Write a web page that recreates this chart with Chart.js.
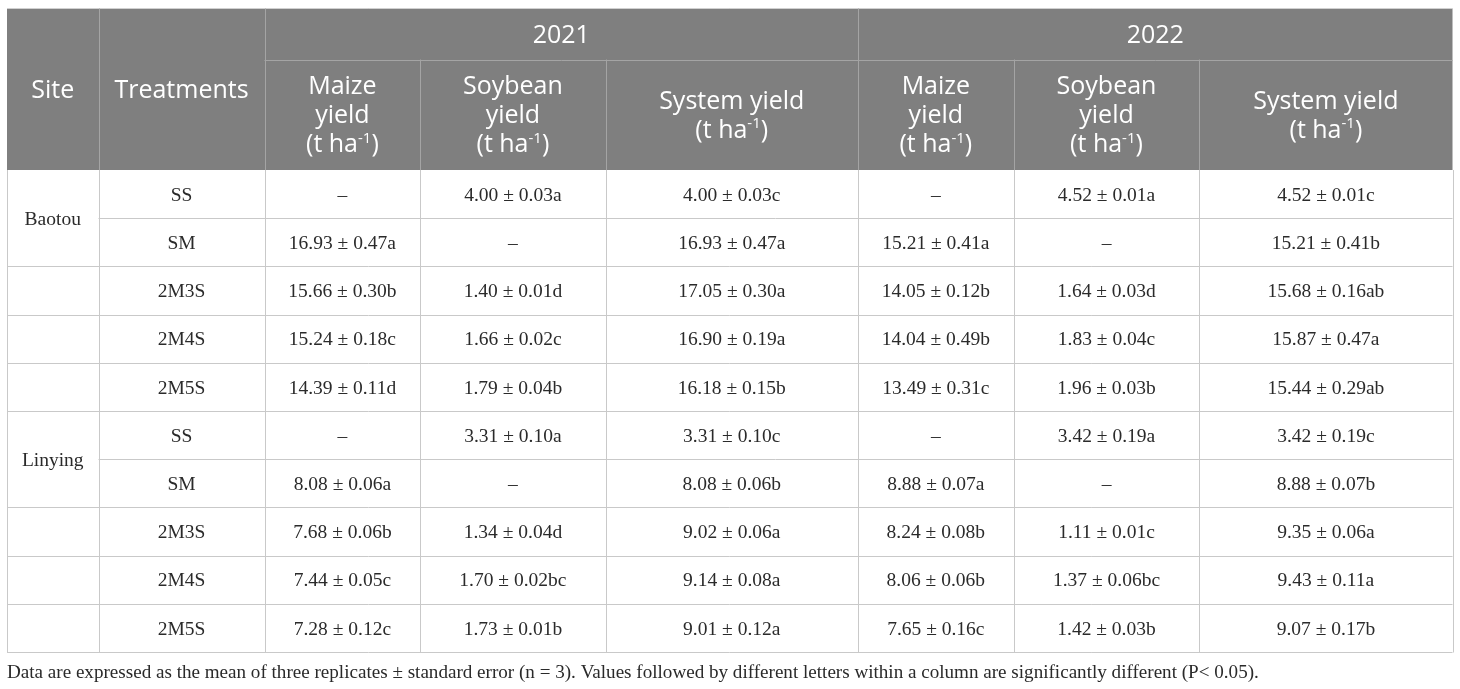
<!DOCTYPE html>
<html>
<head>
<meta charset="utf-8">
<script src="https://cdn.jsdelivr.net/npm/chart.js@4.4.0/dist/chart.umd.min.js"></script>
<style>
html, body { margin: 0; padding: 0; background: #fff; }
#wrap { width: 1460px; height: 689px; position: relative; }
</style>
</head>
<body>
<div id="wrap"><canvas id="tableChart"></canvas></div>
<script>
const sites = ['Baotou', 'Linying'];
const treatments = ['SS', 'SM', '2M3S', '2M4S', '2M5S'];
const years = ['2021', '2022'];
const measures = [['Maize', 'yield'], ['Soybean', 'yield'], ['System yield']];
const unitText = ['(t ha', '-1', ')'];

// rows: Baotou SS..2M5S then Linying SS..2M5S, null = crop not grown
const maize2021 = [null, 16.93, 15.66, 15.24, 14.39, null, 8.08, 7.68, 7.44, 7.28];
const maize2021Se = [null, 0.47, 0.30, 0.18, 0.11, null, 0.06, 0.06, 0.05, 0.12];
const maize2021Sig = ['', 'a', 'b', 'c', 'd', '', 'a', 'b', 'c', 'c'];
const soy2021 = [4.00, null, 1.40, 1.66, 1.79, 3.31, null, 1.34, 1.70, 1.73];
const soy2021Se = [0.03, null, 0.01, 0.02, 0.04, 0.10, null, 0.04, 0.02, 0.01];
const soy2021Sig = ['a', '', 'd', 'c', 'b', 'a', '', 'd', 'bc', 'b'];
const system2021 = [4.00, 16.93, 17.05, 16.90, 16.18, 3.31, 8.08, 9.02, 9.14, 9.01];
const system2021Se = [0.03, 0.47, 0.30, 0.19, 0.15, 0.10, 0.06, 0.06, 0.08, 0.12];
const system2021Sig = ['c', 'a', 'a', 'a', 'b', 'c', 'b', 'a', 'a', 'a'];
const maize2022 = [null, 15.21, 14.05, 14.04, 13.49, null, 8.88, 8.24, 8.06, 7.65];
const maize2022Se = [null, 0.41, 0.12, 0.49, 0.31, null, 0.07, 0.08, 0.06, 0.16];
const maize2022Sig = ['', 'a', 'b', 'b', 'c', '', 'a', 'b', 'b', 'c'];
const soy2022 = [4.52, null, 1.64, 1.83, 1.96, 3.42, null, 1.11, 1.37, 1.42];
const soy2022Se = [0.01, null, 0.03, 0.04, 0.03, 0.19, null, 0.01, 0.06, 0.03];
const soy2022Sig = ['a', '', 'd', 'c', 'b', 'a', '', 'c', 'bc', 'b'];
const system2022 = [4.52, 15.21, 15.68, 15.87, 15.44, 3.42, 8.88, 9.35, 9.43, 9.07];
const system2022Se = [0.01, 0.41, 0.16, 0.47, 0.29, 0.19, 0.07, 0.06, 0.11, 0.17];
const system2022Sig = ['c', 'b', 'ab', 'a', 'ab', 'c', 'b', 'a', 'a', 'b'];

const footnote = 'Data are expressed as the mean of three replicates ± standard error (n = 3). Values followed by different letters within a column are significantly different (P< 0.05).';

// layout (table units = px from left border)
const colEdges = [0, 91.5, 257.5, 413.3, 598.5, 851, 1006.7, 1192.3, 1445.5];
const HEAD_TOP = 8.5, HEAD_MID = 59.5;
const headFont = '25px "Open Sans"';
const supFont = '15px "Open Sans"';
const bodyFont = '19.5px "Liberation Serif"';
const noteFont = '19.1px "Liberation Serif"';
const headBg = '#7f7f7f', headLine = '#a4a4a4', bodyLine = '#c9c9c9', bodyText = '#2a2a2a';

const nRows = sites.length * treatments.length;
const colCenter = c => (colEdges[c] + colEdges[c + 1]) / 2;

function cellText(mean, se, sig) {
    return mean === null ? '–' : mean.toFixed(2) + ' ± ' + se.toFixed(2) + sig;
}

const valueCols = [
    [maize2021, maize2021Se, maize2021Sig],
    [soy2021, soy2021Se, soy2021Sig],
    [system2021, system2021Se, system2021Sig],
    [maize2022, maize2022Se, maize2022Sig],
    [soy2022, soy2022Se, soy2022Sig],
    [system2022, system2022Se, system2022Sig]
];

const datasets = [];
// site labels sit in the middle of a two-row merged cell
datasets.push({
    texts: sites,
    data: sites.map((s, i) => ({x: colCenter(0), y: i * treatments.length + 0.5}))
});
datasets.push({
    texts: sites.flatMap(() => treatments),
    data: sites.flatMap((s, i) => treatments.map((t, j) => ({x: colCenter(1), y: i * treatments.length + j})))
});
valueCols.forEach(([m, se, sig], c) => {
    datasets.push({
        texts: m.map((v, r) => cellText(v, se[r], sig[r])),
        data: m.map((v, r) => ({x: colCenter(c + 2), y: r}))
    });
});
datasets.forEach(d => { d.pointRadius = 0; d.pointHoverRadius = 0; });

function crisp(v) { return Math.round(v) + 0.5; }

function line(ctx, x1, y1, x2, y2, color) {
    ctx.strokeStyle = color;
    ctx.lineWidth = 1;
    ctx.beginPath();
    ctx.moveTo(x1, y1);
    ctx.lineTo(x2, y2);
    ctx.stroke();
}

function unitLine(ctx, cx, baseline) {
    ctx.font = headFont;
    const w0 = ctx.measureText(unitText[0]).width;
    const w2 = ctx.measureText(unitText[2]).width;
    ctx.font = supFont;
    const w1 = ctx.measureText(unitText[1]).width;
    let x0 = cx - (w0 + w1 + w2) / 2;
    ctx.textAlign = 'left';
    ctx.font = headFont;
    ctx.fillText(unitText[0], x0, baseline);
    ctx.font = supFont;
    ctx.fillText(unitText[1], x0 + w0, baseline - 9.5);
    ctx.font = headFont;
    ctx.fillText(unitText[2], x0 + w0 + w1, baseline);
    ctx.textAlign = 'center';
}

const tablePlugin = {
    id: 'tableDraw',
    afterDraw(chart) {
        const {ctx, chartArea} = chart;
        const x = chart.scales.x, y = chart.scales.y;
        const px = c => x.getPixelForValue(colEdges[c]);
        const left = px(0), right = px(colEdges.length - 1);
        const top = chartArea.top, bottom = y.getPixelForValue(nRows - 0.5);
        ctx.save();

        // header block
        ctx.fillStyle = headBg;
        ctx.fillRect(left, HEAD_TOP, right - left, top - HEAD_TOP);
        line(ctx, left, crisp(HEAD_TOP - 1), right, crisp(HEAD_TOP - 1), '#d0d0d0');
        line(ctx, px(2), crisp(HEAD_MID), right, crisp(HEAD_MID), headLine);
        [1, 2, 5].forEach(c => line(ctx, crisp(px(c)), HEAD_TOP, crisp(px(c)), top, headLine));
        [3, 4, 6, 7].forEach(c => line(ctx, crisp(px(c)), HEAD_MID, crisp(px(c)), top, headLine));

        ctx.fillStyle = '#ffffff';
        ctx.textAlign = 'center';
        ctx.textBaseline = 'alphabetic';
        ctx.font = headFont;
        ctx.fillText('Site', x.getPixelForValue(colCenter(0)), 98);
        ctx.fillText('Treatments', x.getPixelForValue(colCenter(1)), 98);
        years.forEach((yr, k) => {
            const cx = (px(2 + k * 3) + px(5 + k * 3)) / 2;
            ctx.font = headFont;
            ctx.fillText(yr, cx, 43);
            measures.forEach((m, j) => {
                const mx = x.getPixelForValue(colCenter(2 + k * 3 + j));
                const n = m.length + 1;
                const first = 123 - (n - 1) * 29 / 2;
                ctx.font = headFont;
                m.forEach((t, i) => ctx.fillText(t, mx, first + i * 29));
                unitLine(ctx, mx, first + m.length * 29);
            });
        });

        // body grid
        for (let r = 1; r < nRows; r++) {
            const yy = crisp(y.getPixelForValue(r - 0.5));
            const merged = r % treatments.length === 1;
            line(ctx, merged ? px(1) : left, yy, right, yy, bodyLine);
        }
        line(ctx, left, crisp(bottom), right, crisp(bottom), bodyLine);
        colEdges.forEach((e, c) => line(ctx, crisp(px(c)), top, crisp(px(c)), crisp(bottom), bodyLine));

        // cell texts placed by the chart's own scales
        ctx.fillStyle = bodyText;
        ctx.font = bodyFont;
        ctx.textAlign = 'center';
        ctx.textBaseline = 'middle';
        chart.data.datasets.forEach((ds, i) => {
            chart.getDatasetMeta(i).data.forEach((el, j) => {
                ctx.fillText(ds.texts[j], el.x, el.y + 1.5);
            });
        });

        ctx.textAlign = 'left';
        ctx.textBaseline = 'alphabetic';
        ctx.font = noteFont;
        ctx.fillText(footnote, left, 677.5);
        ctx.restore();
    }
};

new Chart(document.getElementById('tableChart'), {
    type: 'scatter',
    data: {datasets: datasets},
    options: {
        responsive: true,
        maintainAspectRatio: false,
        animation: false,
        events: [],
        layout: {padding: {top: 170, bottom: 37, left: 7, right: 7}},
        plugins: {
            legend: {display: false},
            tooltip: {enabled: false}
        },
        scales: {
            x: {type: 'linear', min: 0, max: 1446, display: false},
            y: {type: 'linear', min: -0.5, max: nRows - 0.5, reverse: true, display: false}
        }
    },
    plugins: [tablePlugin]
});
</script>
</body>
</html>
